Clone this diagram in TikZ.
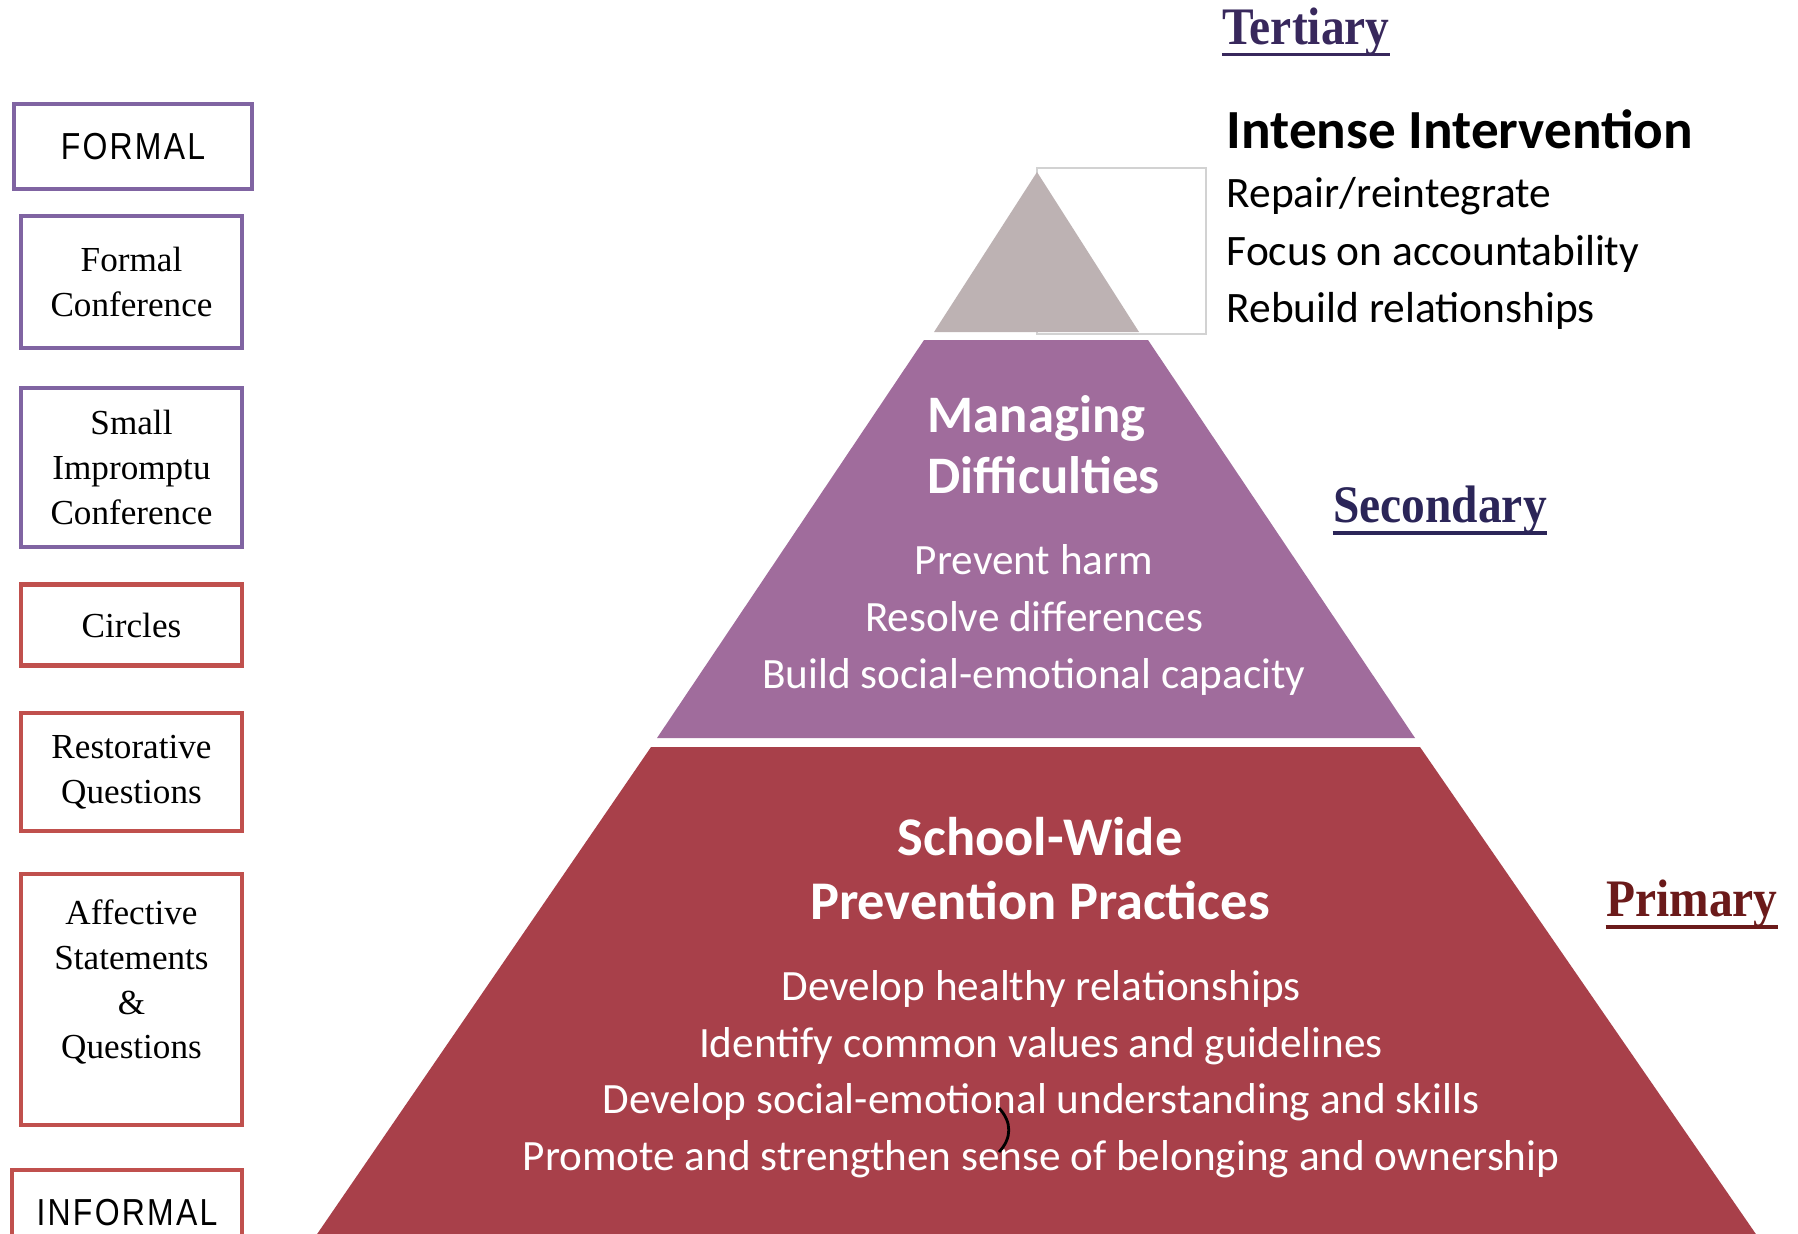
\documentclass[tikz,border=0pt]{standalone}
\usepackage{fontspec}
\setmainfont{Liberation Serif}
\newfontfamily\gillfont{Carlito}
\newfontfamily\tierfont[FakeStretch=0.9]{Liberation Serif}
\newfontfamily\capsfont[FakeStretch=0.85,LetterSpace=6]{Liberation Sans}
\usepackage{tikz}
\usetikzlibrary{positioning}

\definecolor{tertgrey}{HTML}{BDB2B3}
\definecolor{secpurple}{HTML}{A06C9C}
\definecolor{primred}{HTML}{A8404A}
\definecolor{boxpurple}{HTML}{8064A2}
\definecolor{boxred}{HTML}{C0504D}
\definecolor{tiernavy}{HTML}{38285C}
\definecolor{secnavy}{HTML}{2B2558}
\definecolor{primmaroon}{HTML}{6B1A1A}

\begin{document}
\begin{tikzpicture}[x=0.1mm, y=-0.1mm]
  \tikzset{
    practice/.style={draw, line width=1.3pt, align=center, inner sep=0pt, font=\fontsize{10}{12.7}\selectfont},
    formalbox/.style={practice, draw=boxpurple},
    informalbox/.style={practice, draw=boxred},
    endlabel/.style={font=\capsfont\fontsize{10.7}{12}\selectfont},
    tierlabel/.style={inner sep=0pt, font=\tierfont\bfseries\fontsize{15}{17}\selectfont},
    tierline/.style={line width=1.1pt},
    tierhead/.style={text=white, align=center, inner sep=0pt, font=\gillfont\bfseries\fontsize{15.5}{18.2}\selectfont},
    tierlist/.style={text=white, align=center, inner sep=0pt, font=\gillfont\fontsize{12.3}{16.1}\selectfont},
    sidelist/.style={anchor=base west, inner sep=0pt, font=\gillfont\fontsize{12.35}{14}\selectfont},
  }

  % Page
  \useasboundingbox (0,0) rectangle (1798,1233);
  \clip (0,0) rectangle (1798,1233);
  \fill[white] (0,0) rectangle (1798,1233);

  % Pyramid layers
  \draw[gray!35, line width=0.6pt] (1037,168) rectangle (1206,334);
  \fill[tertgrey] (1037,172) -- (1139,332) -- (934,332) -- cycle;
  \fill[secpurple] (924,340) -- (1148,340) -- (1415,738) -- (657,738) -- cycle;
  \fill[primred] (651,747) -- (1420,747) -- (1760,1240) -- (313,1240) -- cycle;

  % Practices, formal to informal
  \node[formalbox, endlabel, minimum width=23.8mm, minimum height=8.5mm] (formal) at (133,146.5) {FORMAL};
  \node[formalbox, minimum width=22.1mm, minimum height=13.2mm] (fconf) at (131.5,282) {Formal\\Conference};
  \node[formalbox, minimum width=22.1mm, minimum height=15.9mm] (sconf) at (131.5,467.5) {Small\\Impromptu\\Conference};
  \node[informalbox, minimum width=22.1mm, minimum height=8.1mm] (circles) at (131.5,625) {Circles};
  \node[informalbox, minimum width=22.1mm, minimum height=11.8mm] (rquest) at (131.5,772) {Restorative\\Questions};
  \node[informalbox, minimum width=22.1mm, minimum height=25.1mm] (affect) at (131.5,999.5) {};
  \node[practice, draw=none, below=2.6mm of affect.north] (affecttext) {Affective\\Statements\\\&\\Questions};
  \node[informalbox, endlabel, minimum width=23mm, minimum height=8.6mm] (informal) at (127,1213) {INFORMAL};

  % Tier names
  \node[tierlabel, text=tiernavy, anchor=base] (tert) at (1306,44) {Tertiary};
  \draw[tierline, tiernavy] ([yshift=-3pt]tert.base west) -- ([yshift=-3pt]tert.base east);
  \node[tierlabel, text=secnavy, anchor=base] (sec) at (1440,522) {Secondary};
  \draw[tierline, secnavy] ([yshift=-3pt]sec.base west) -- ([yshift=-3pt]sec.base east);
  \node[tierlabel, text=primmaroon, anchor=base] (prim) at (1692,916) {Primary};
  \draw[tierline, primmaroon] ([yshift=-3pt]prim.base west) -- ([yshift=-3pt]prim.base east);

  % Tertiary notes
  \node[sidelist, font=\gillfont\bfseries\fontsize{15.7}{18}\selectfont] (intense) at (1226,148) {Intense Intervention};
  \node[sidelist] (repair) at (1226,207) {Repair/reintegrate};
  \node[sidelist] (focus) at (1226,265) {Focus on accountability};
  \node[sidelist] (rebuild) at (1226,322) {Rebuild relationships};

  % Secondary layer
  \node[tierhead, align=left, anchor=west, font=\gillfont\bfseries\fontsize{15}{17.4}\selectfont] (managing) at (927,445) {Managing\\Difficulties};
  \node[tierlist] (secitems) at (1034,620) {Prevent harm\\Resolve differences\\Build social-emotional capacity};

  % Primary layer
  \node[tierhead] (schoolwide) at (1040,869) {School-Wide\\Prevention Practices};
  \node[tierlist] (primitems) at (1041,1074) {Develop healthy relationships\\Identify common values and guidelines\\Develop social-emotional understanding and skills\\Promote and strengthen sense of belonging and ownership};

  \draw[line width=0.8pt] (999,1108) .. controls (1012,1122) and (1012,1138) .. (999,1152);
\end{tikzpicture}
\end{document}
